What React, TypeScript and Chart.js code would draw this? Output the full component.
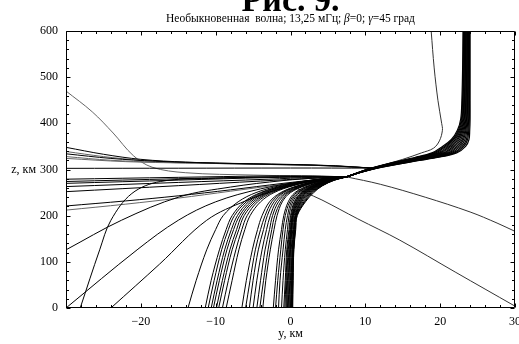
import { useEffect, useRef } from 'react';
import { Chart, registerables } from 'chart.js';

Chart.register(...registerables);

// ---------- data ----------
const xTickLabels = [-20, -10, 0, 10, 20, 30];
const yTickLabels = [0, 100, 200, 300, 400, 500, 600];

// rays launched from the ground: x (km) at these heights z (km)
const groundLevels = [0, 60, 126, 170, 200, 230, 250, 265, 277, 284];
const groundRays = [
  [-13.7, -12.6, -11.2, -10.0, -9.0, -7.0, -4.6, -1.4, 2.8, 7.5],
  [-11.4, -10.6, -9.5, -8.6, -7.8, -6.2, -4.0, -1.0, 3.0, 7.5],
  [-11.0, -10.2, -9.2, -8.3, -7.5, -5.9, -3.8, -0.8, 3.1, 7.5],
  [-10.6, -9.8, -8.8, -7.9, -7.1, -5.6, -3.5, -0.6, 3.2, 7.5],
  [-10.3, -9.5, -8.5, -7.6, -6.8, -5.3, -3.3, -0.4, 3.3, 7.5],
  [-9.9, -9.1, -8.1, -7.2, -6.5, -5.0, -3.0, -0.2, 3.4, 7.5],
  [-9.6, -8.8, -7.8, -6.9, -6.2, -4.7, -2.8, 0.0, 3.5, 7.5],
  [-9.1, -8.3, -7.3, -6.5, -5.8, -4.4, -2.5, 0.2, 3.6, 7.5],
  [-8.6, -7.8, -6.9, -6.1, -5.4, -4.0, -2.2, 0.4, 3.7, 7.5],
  [-6.5, -5.9, -5.1, -4.4, -3.8, -2.8, -1.3, 1.0, 4.0, 7.5],
  [-6.0, -5.4, -4.7, -4.0, -3.4, -2.5, -1.1, 1.1, 4.1, 7.5],
  [-5.5, -5.0, -4.3, -3.6, -3.1, -2.2, -0.9, 1.3, 4.2, 7.5],
  [-5.0, -4.5, -3.8, -3.2, -2.7, -1.9, -0.6, 1.5, 4.3, 7.5],
  [-4.5, -4.0, -3.4, -2.8, -2.4, -1.6, -0.4, 1.7, 4.4, 7.5],
  [-4.1, -3.6, -3.0, -2.5, -2.1, -1.3, -0.2, 1.8, 4.5, 7.5],
  [-3.7, -3.3, -2.7, -2.2, -1.8, -1.1, 0.0, 2.0, 4.6, 7.5],
  [-2.3, -2.0, -1.6, -1.2, -0.9, -0.3, 0.6, 2.4, 4.8, 7.5],
  [-2.0, -1.7, -1.3, -1.0, -0.7, -0.1, 0.8, 2.5, 4.9, 7.5],
  [-1.6, -1.4, -1.0, -0.7, -0.4, 0.1, 1.0, 2.7, 5.0, 7.5],
  [-1.2, -1.0, -0.7, -0.4, -0.2, 0.3, 1.2, 2.9, 5.1, 7.5],
  [-0.9, -0.7, -0.5, -0.2, 0.0, 0.5, 1.4, 3.0, 5.2, 7.5],
  [-0.75, -0.6, -0.4, -0.1, 0.1, 0.6, 1.5, 3.1, 5.25, 7.5],
  [-0.6, -0.5, -0.3, 0.0, 0.2, 0.7, 1.6, 3.2, 5.3, 7.5],
  [-0.5, -0.4, -0.2, 0.05, 0.25, 0.8, 1.7, 3.3, 5.35, 7.5],
  [-0.4, -0.3, -0.1, 0.1, 0.3, 0.9, 1.8, 3.4, 5.4, 7.5],
  [-0.3, -0.2, -0.05, 0.15, 0.35, 1.0, 1.9, 3.5, 5.45, 7.5],
  [-0.2, -0.1, 0.0, 0.2, 0.4, 1.1, 2.0, 3.6, 5.5, 7.5],
  [-0.1, 0.0, 0.1, 0.3, 0.5, 1.2, 2.1, 3.7, 5.55, 7.5],
  [0.0, 0.1, 0.2, 0.4, 0.6, 1.3, 2.2, 3.8, 5.6, 7.5],
  [0.05, 0.15, 0.25, 0.45, 0.65, 1.4, 2.35, 3.9, 5.65, 7.5],
  [0.1, 0.2, 0.3, 0.5, 0.7, 1.5, 2.5, 4.0, 5.7, 7.5],
  [0.15, 0.25, 0.35, 0.55, 0.75, 1.65, 2.65, 4.1, 5.75, 7.5],
  [0.2, 0.3, 0.4, 0.6, 0.8, 1.8, 2.8, 4.2, 5.8, 7.5],
  [0.25, 0.32, 0.42, 0.65, 0.85, 1.9, 2.95, 4.25, 5.85, 7.5],
  [0.3, 0.35, 0.45, 0.7, 0.9, 2.0, 3.1, 4.3, 5.9, 7.5],
];

// rays going up from the focus: x (km) at these heights z (km)
const upperLevels = [284, 295, 303, 315, 326, 336, 350, 365, 385, 410, 450, 520, 600];
const upperRays = [
  [7.5, 9.3, 10.8, 13.6, 16.6, 18.9, 20.3, 21.5, 22.3, 22.75, 22.9, 23.0, 23.05],
  [7.5, 9.32, 10.86, 13.76, 16.84, 19.16, 20.55, 21.69, 22.43, 22.85, 22.99, 23.08, 23.13],
  [7.5, 9.35, 10.92, 13.9, 17.05, 19.4, 20.77, 21.85, 22.55, 22.94, 23.07, 23.15, 23.19],
  [7.5, 9.37, 10.98, 14.06, 17.29, 19.66, 21.01, 22.04, 22.68, 23.04, 23.15, 23.23, 23.27],
  [7.5, 9.39, 11.05, 14.22, 17.53, 19.92, 21.26, 22.23, 22.81, 23.14, 23.24, 23.31, 23.34],
  [7.5, 9.41, 11.1, 14.36, 17.74, 20.15, 21.48, 22.39, 22.93, 23.23, 23.32, 23.38, 23.41],
  [7.5, 9.44, 11.17, 14.52, 17.98, 20.42, 21.73, 22.58, 23.06, 23.33, 23.41, 23.46, 23.49],
  [7.5, 9.46, 11.23, 14.68, 18.22, 20.68, 21.97, 22.77, 23.19, 23.43, 23.49, 23.54, 23.56],
  [7.5, 9.49, 11.3, 14.84, 18.46, 20.95, 22.22, 22.96, 23.32, 23.53, 23.58, 23.62, 23.64],
  [7.5, 9.51, 11.35, 14.98, 18.67, 21.18, 22.44, 23.12, 23.44, 23.61, 23.66, 23.69, 23.71],
  [7.5, 9.53, 11.42, 15.14, 18.91, 21.44, 22.69, 23.31, 23.57, 23.71, 23.75, 23.77, 23.78],
  [7.5, 9.56, 11.48, 15.3, 19.15, 21.71, 22.94, 23.5, 23.7, 23.81, 23.84, 23.85, 23.86],
  [7.5, 9.58, 11.54, 15.44, 19.36, 21.94, 23.15, 23.66, 23.82, 23.9, 23.91, 23.92, 23.92],
  [7.5, 9.6, 11.6, 15.6, 19.6, 22.2, 23.4, 23.85, 23.95, 24.0, 24.0, 24.0, 24.0],
];

// rays reaching the left edge: [y, z] points
const leftRaysBlack: number[][][] = [
  [[-30, 348], [-25, 333], [-20, 322], [-14, 316], [-5, 312], [4, 309], [11, 303]],
  [[-30, 334], [-24, 324], [-18, 318], [-10, 314], [0, 311], [6, 308], [11, 303]],
  [[-30, 302.5], [-15, 302.8], [0, 303.2], [11, 303]],
  [[-30, 279], [-15, 283], [-3, 286], [3, 286], [7.5, 284]],
  [[-30, 274], [-15, 280], [-3, 284], [3, 285], [7.5, 284]],
  [[-30, 270], [-15, 277], [-3, 282.5], [3, 284], [7.5, 284]],
  [[-30, 263], [-15, 272], [-3, 279], [3, 283], [7.5, 284]],
  [[-30, 252], [-15, 265], [-4, 275], [3, 281], [7.5, 284]],
  [[-30, 221], [-22, 232], [-15, 243], [-8, 256], [-1, 270], [4, 279], [7.5, 284]],
  [[-30, 126], [-22.6, 190], [-14.8, 241], [-8, 262], [-1, 276], [4, 282], [7.5, 284]],
  [[-30, 0], [-20.5, 126], [-15, 190], [-10, 230], [-4, 258], [2, 275], [7.5, 284]],
  [[-28.1, 0], [-25.5, 126], [-24, 190], [-21.2, 248], [-17.4, 274], [-10, 281], [0, 284], [7.5, 284]],
  [[-24, 0], [-17.5, 95], [-11.2, 190], [-6, 232], [-1, 260], [3, 276], [7.5, 284]],
];
const leftRaysGray: number[][][] = [
  [[-30, 339], [-25, 328], [-20, 320], [-14, 315], [-5, 311.5], [4, 308.5], [11, 303]],
  [[-30, 328], [-24, 320], [-18, 316], [-10, 313], [0, 310], [6, 307.5], [11, 303]],
  [[-30, 324], [-22, 317], [-14, 314], [-4, 311.5], [5, 308], [11, 303]],
  [[-30, 212], [-22, 225], [-15, 238], [-8, 253], [-1, 268], [4, 278], [7.5, 284]],
  [[-30, 470], [-26.5, 425], [-23.7, 379], [-21, 330], [-18.5, 305], [-14, 293], [-5, 288], [7.5, 284]],
];
// other rays
const rightRays: number[][][] = [
  [[0.5, 262], [2, 250], [4.2, 234], [9, 193], [14.6, 147], [22, 78], [30, 4]],
  [[7.5, 284], [12, 268], [18, 240], [24, 208], [27.6, 184], [30, 166]],
  [[18.8, 600], [19.2, 520], [19.7, 450], [20.2, 400], [20.3, 385], [19.9, 362], [19.1, 346], [17.5, 336], [15, 322], [11, 303], [7.5, 284]],
];

const FONT = '"Liberation Serif", "Times New Roman", serif';

function lineDs(points: { x: number; y: number }[], color: string, width = 1) {
  return {
    data: points,
    showLine: true,
    borderColor: color,
    borderWidth: width,
    pointRadius: 0,
    tension: 0.35,
    fill: false,
    clip: 0,
  };
}

const framePlugin = {
  id: 'frame',
  afterDatasetsDraw(chart: any) {
    const { ctx, chartArea: a, scales } = chart;
    const xs = scales.x;
    const ys = scales.y;
    const L = Math.round(a.left) + 0.5;
    const R = Math.round(a.right) - 0.5;
    const T = Math.round(a.top) + 0.5;
    const B = Math.round(a.bottom) - 0.5;
    ctx.save();
    ctx.strokeStyle = '#000';
    ctx.lineWidth = 1;
    ctx.beginPath();
    ctx.rect(L, T, R - L, B - T);
    ctx.stroke();
    ctx.beginPath();
    for (let v = -30; v <= 30; v += 2) {
      const px = Math.round(xs.getPixelForValue(v)) + 0.5;
      const len = v % 10 === 0 ? 4 : 2.5;
      ctx.moveTo(px, B);
      ctx.lineTo(px, B - len);
      ctx.moveTo(px, T);
      ctx.lineTo(px, T + len);
    }
    for (let v = 0; v <= 600; v += 20) {
      const py = Math.round(ys.getPixelForValue(v)) + 0.5;
      const len = v % 100 === 0 ? 4 : 2.5;
      ctx.moveTo(L, py);
      ctx.lineTo(L + len, py);
      ctx.moveTo(R, py);
      ctx.lineTo(R - len, py);
    }
    ctx.stroke();

    ctx.fillStyle = '#000';
    ctx.font = `12px ${FONT}`;
    ctx.textAlign = 'right';
    ctx.textBaseline = 'middle';
    for (const v of yTickLabels) {
      ctx.fillText(String(v), a.left - 8, ys.getPixelForValue(v));
    }
    ctx.textAlign = 'center';
    for (const v of xTickLabels) {
      const s = v < 0 ? '\u2212' + Math.abs(v) : String(v);
      ctx.fillText(s, xs.getPixelForValue(v), a.bottom + 14);
    }
    ctx.fillText('y, км', (a.left + a.right) / 2, a.bottom + 26);
    ctx.textAlign = 'right';
    ctx.fillText('z, км', a.left - 30, ys.getPixelForValue(300));

    // subtitle
    const segs: [string, boolean][] = [
      ['Необыкновенная  волна; 13,25 мГц; ', false],
      ['β', true],
      ['=0; ', false],
      ['γ', true],
      ['=45 град', false],
    ];
    const sz = 11.5;
    let total = 0;
    for (const [t, it] of segs) {
      ctx.font = `${it ? 'italic ' : ''}${sz}px ${FONT}`;
      total += ctx.measureText(t).width;
    }
    let x0 = (a.left + a.right) / 2 - total / 2;
    ctx.textAlign = 'left';
    ctx.textBaseline = 'alphabetic';
    for (const [t, it] of segs) {
      ctx.font = `${it ? 'italic ' : ''}${sz}px ${FONT}`;
      ctx.fillText(t, x0, 22);
      x0 += ctx.measureText(t).width;
    }
    // main title (cut off at the top)
    ctx.font = `bold 34px ${FONT}`;
    ctx.textAlign = 'center';
    ctx.fillText('Рис. 9.', (a.left + a.right) / 2, 11);
    ctx.restore();
  },
};

export default function App() {
  const ref = useRef<HTMLCanvasElement>(null);
  useEffect(() => {
    document.body.style.margin = '0';
    const datasets: any[] = [];
    for (const r of groundRays) {
      datasets.push(lineDs(r.map((x, i) => ({ x, y: groundLevels[i] })), '#000'));
    }
    for (const r of upperRays) {
      datasets.push(lineDs(r.map((x, i) => ({ x, y: upperLevels[i] })), '#000', 1.2));
    }
    for (const r of leftRaysBlack) {
      datasets.push(lineDs(r.map(([x, y]) => ({ x, y })), '#000'));
    }
    for (const r of leftRaysGray) {
      datasets.push(lineDs(r.map(([x, y]) => ({ x, y })), '#666'));
    }
    for (const r of rightRays) {
      datasets.push(lineDs(r.map(([x, y]) => ({ x, y })), '#333'));
    }
    const chart = new Chart(ref.current as HTMLCanvasElement, {
      type: 'scatter',
      data: { datasets },
      options: {
        animation: false,
        responsive: false,
        devicePixelRatio: 1,
        layout: { padding: { left: 66, right: 4, top: 31, bottom: 36 } },
        plugins: { legend: { display: false }, tooltip: { enabled: false } },
        scales: {
          x: {
            type: 'linear',
            min: -30,
            max: 30,
            grid: { display: false, drawTicks: false },
            border: { display: false },
            ticks: { display: false },
          },
          y: {
            type: 'linear',
            min: 0,
            max: 600,
            grid: { display: false, drawTicks: false },
            border: { display: false },
            ticks: { display: false },
          },
        },
      },
      plugins: [framePlugin],
    } as any);
    return () => chart.destroy();
  }, []);
  return <canvas ref={ref} width={519} height={344} style={{ display: 'block' }} />;
}
